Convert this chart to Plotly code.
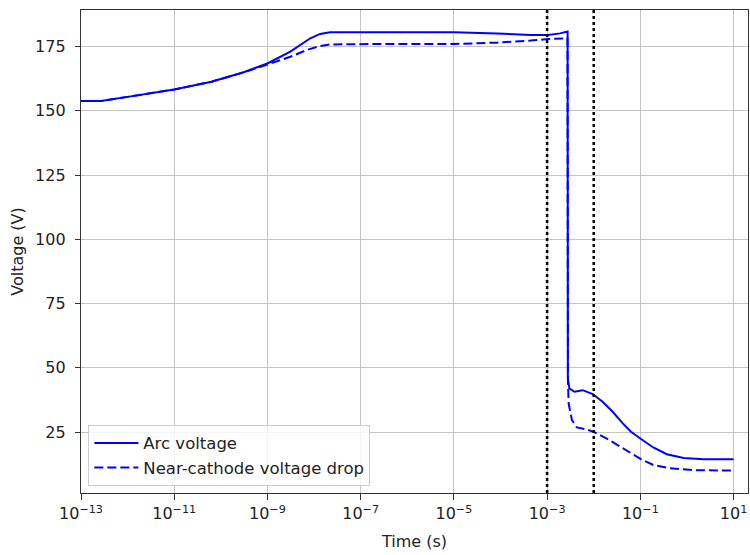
import plotly.graph_objects as go

# Arc voltage versus time (s)
arc_time = [1e-13, 2.7e-13, 1e-12, 1e-11, 6.3e-11, 3.2e-10, 1e-9, 3.1e-9, 8.3e-9,
            1.35e-8, 2.2e-8, 4.3e-7, 1e-5, 8.3e-5, 4.4e-4, 1.05e-3, 1.9e-3, 2.75e-3,
            2.79e-3, 3.0e-3, 3.85e-3, 5.8e-3, 9.5e-3, 1.55e-2, 2.55e-2, 4.2e-2,
            6.3e-2, 1.0e-1, 1.9e-1, 3.7e-1, 8.5e-1, 2.3, 10.0]
arc_voltage = [153.8, 153.8, 155.4, 158.3, 161.3, 165.1, 168.4, 173.0, 178.2,
               179.9, 180.5, 180.5, 180.5, 180.1, 179.5, 179.5, 180.1, 180.8,
               46.0, 42.0, 40.7, 41.3, 39.8, 36.8, 32.9, 28.4,
               25.1, 22.5, 19.0, 16.4, 14.9, 14.4, 14.4]

# Near-cathode voltage drop versus time (s)
cathode_time = [1e-13, 2.7e-13, 1e-12, 1e-11, 6.3e-11, 3.2e-10, 1e-9, 3.1e-9, 6.9e-9,
                1.35e-8, 2.2e-8, 2.6e-7, 1e-5, 8.3e-5, 4.4e-4, 1.05e-3, 2.5e-3, 2.74e-3,
                2.8e-3, 2.9e-3, 3.4e-3, 4.35e-3, 7.1e-3, 1.0e-2, 1.9e-2, 4.35e-2,
                1.05e-1, 1.9e-1, 4.3e-1, 1.38, 10.0]
cathode_voltage = [153.8, 153.8, 155.4, 158.3, 161.3, 165.0, 168.0, 171.0, 173.6,
                   175.2, 175.8, 176.0, 176.0, 176.5, 177.3, 177.9, 178.2, 178.2,
                   45.0, 36.1, 29.7, 26.8, 26.0, 25.1, 22.5, 18.7,
                   14.4, 12.2, 10.9, 10.2, 10.0]

# Reference instants marked with vertical dotted lines (s)
marker_times = [1e-3, 1e-2]

x_tick_exponents = [-13, -11, -9, -7, -5, -3, -1, 1]
y_ticks = [25, 50, 75, 100, 125, 150, 175]
y_range = [1.3, 189.2]
x_log_range = [-13, 1.31]

FONT = "DejaVu Sans"
BLUE = "#0000ff"

fig = go.Figure()

fig.add_trace(go.Scatter(
    x=arc_time, y=arc_voltage, mode="lines", name="Arc voltage",
    legendgroup="a",
    line=dict(color=BLUE, width=2),
))
fig.add_trace(go.Scatter(
    x=cathode_time, y=cathode_voltage, mode="lines", name="Near-cathode voltage drop",
    legendgroup="b",
    line=dict(color=BLUE, width=2, dash="9px,4px"),
))

for t in marker_times:
    fig.add_trace(go.Scatter(
        x=[t, t], y=y_range, mode="lines", showlegend=False, hoverinfo="skip",
        line=dict(color="black", width=2.5, dash="3px,3px"),
    ))

fig.update_layout(
    width=750, height=555,
    margin=dict(l=81, r=2, t=10, b=62),
    paper_bgcolor="white", plot_bgcolor="white",
    font=dict(family=FONT, size=16, color="#222222"),
    showlegend=True,
    legend=dict(
        x=0.011, y=0.015, xanchor="left", yanchor="bottom",
        bgcolor="rgba(255,255,255,0.8)", bordercolor="#cccccc", borderwidth=1,
        font=dict(family=FONT, size=16.5, color="#222222"),
        traceorder="grouped", tracegroupgap=0, itemwidth=44,
    ),
)

fig.update_xaxes(
    type="log", range=x_log_range,
    tickvals=[10.0 ** e for e in x_tick_exponents],
    ticktext=[f"10<sup>{str(e).replace('-', '−')}</sup>" for e in x_tick_exponents],
    showgrid=True, gridcolor="#c4c4c4", gridwidth=1.2,
    showline=True, linecolor="#333333", linewidth=1.3, mirror=True,
    ticks="outside", ticklen=6, tickwidth=1.2, tickcolor="#333333",
    zeroline=False,
    title=dict(text="Time (s)", font=dict(family=FONT, size=16), standoff=13),
    tickfont=dict(family=FONT, size=16),
)
fig.update_yaxes(
    range=y_range, tickvals=y_ticks,
    showgrid=True, gridcolor="#c4c4c4", gridwidth=1.2,
    showline=True, linecolor="#333333", linewidth=1.3, mirror=True,
    ticks="outside", ticklen=5, tickwidth=1.2, tickcolor="#333333",
    ticklabelstandoff=6,
    zeroline=False,
    title=dict(text="Voltage (V)", font=dict(family=FONT, size=16), standoff=7),
    tickfont=dict(family=FONT, size=16),
)

fig.write_html("out.html")
